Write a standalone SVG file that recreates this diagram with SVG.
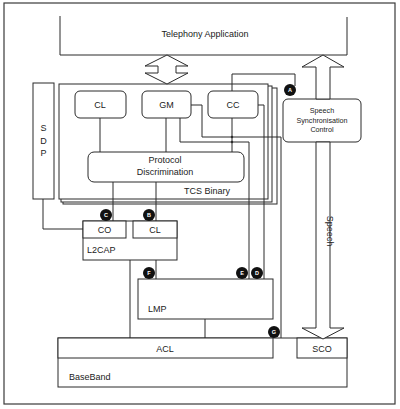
<svg xmlns="http://www.w3.org/2000/svg" width="400" height="409" viewBox="0 0 400 409">
<style>
  .b{fill:#fff;stroke:#2a2a2a;stroke-width:1}
  .n{fill:none;stroke:#2a2a2a;stroke-width:1}
  .t{font-family:"Liberation Sans",Arial,sans-serif;font-size:9px;fill:#222}
  .s{font-family:"Liberation Sans",Arial,sans-serif;font-size:7.2px;fill:#222}
  .dot circle{fill:#111}
  .dot text{font-family:"Liberation Sans",Arial,sans-serif;font-size:5.5px;font-weight:bold;fill:#fff;text-anchor:middle}
</style>
<rect width="400" height="409" fill="#fff"/>
<rect x="4" y="3" width="391" height="401" fill="none" stroke="#3a3a3a" stroke-width="1.2"/>

<g id="telephony">
  <path class="n" d="M60,16 V55 H347 V17"/>
  <text class="t" x="205" y="37" text-anchor="middle">Telephony Application</text>
</g>

<g id="tcs-binary">
  <rect class="b" x="63" y="88" width="214" height="116"/>
  <rect class="b" x="61" y="86" width="211" height="116"/>
  <rect class="b" x="59" y="84" width="209" height="115"/>
  <text class="t" x="207" y="194" text-anchor="middle">TCS Binary</text>
</g>

<g id="cl-top">
  <rect class="b" x="75" y="91" width="51" height="27" rx="5"/>
  <text class="t" x="100" y="107.5" text-anchor="middle">CL</text>
</g>
<g id="gm">
  <rect class="b" x="142" y="91" width="49" height="27" rx="5"/>
  <text class="t" x="166.5" y="107.5" text-anchor="middle">GM</text>
</g>
<g id="cc">
  <rect class="b" x="208" y="91" width="50" height="27" rx="5"/>
  <text class="t" x="233" y="107.5" text-anchor="middle">CC</text>
</g>
<g id="protocol-discrimination">
  <rect class="b" x="88" y="152" width="156" height="30" rx="6"/>
  <text class="t" x="165" y="163" text-anchor="middle">Protocol</text>
  <text class="t" x="165" y="175" text-anchor="middle">Discrimination</text>
</g>

<g id="sdp">
  <rect class="b" x="33" y="83" width="21" height="116"/>
  <text class="t" x="43.5" y="131" text-anchor="middle">S</text>
  <text class="t" x="43.5" y="143.5" text-anchor="middle">D</text>
  <text class="t" x="43.5" y="156" text-anchor="middle">P</text>
</g>

<g id="speech-sync">
  <rect class="b" x="283" y="99" width="78" height="43" rx="5"/>
  <text class="s" x="322" y="113" text-anchor="middle">Speech</text>
  <text class="s" x="322" y="122.5" text-anchor="middle">Synchronisation</text>
  <text class="s" x="322" y="132" text-anchor="middle">Control</text>
</g>

<g id="l2cap">
  <rect class="b" x="83" y="221" width="94" height="39"/>
  <rect class="b" x="83" y="221" width="43" height="17"/>
  <rect class="b" x="133" y="221" width="44" height="17"/>
  <text class="t" x="104.5" y="232.5" text-anchor="middle">CO</text>
  <text class="t" x="155" y="232.5" text-anchor="middle">CL</text>
  <text class="t" x="87" y="253">L2CAP</text>
</g>

<g id="lmp">
  <rect class="b" x="138" y="279" width="135" height="40"/>
  <text class="t" x="148" y="312">LMP</text>
</g>

<g id="baseband">
  <rect class="b" x="58" y="338" width="289" height="49"/>
  <rect class="b" x="58" y="338" width="215" height="20"/>
  <rect class="b" x="297" y="338" width="50" height="20"/>
  <text class="t" x="165" y="351.5" text-anchor="middle">ACL</text>
  <text class="t" x="322" y="351.5" text-anchor="middle">SCO</text>
  <text class="t" x="69" y="380">BaseBand</text>
</g>

<g id="connectors">
  <!-- double arrow app <-> TCS -->
  <polygon class="b" points="167,55 188,66 176,66 176,73 188,73 167,84 145,73 158,73 158,66 145,66"/>
  <!-- speech arrows -->
  <polygon class="b" points="323,55 344,67 330,67 330,99 316,99 316,67 302,67"/>
  <polygon class="b" points="316,142 330,142 330,328 344,328 323,339 302,328 316,328"/>
  <text class="t" transform="translate(326.5,231) rotate(90)" text-anchor="middle">Speech</text>
  <!-- TCS internal -->
  <path class="n" d="M100,118 V152"/>
  <path class="n" d="M166,118 V152"/>
  <path class="n" d="M232,118 V152"/>
  <!-- GM -> E -->
  <path class="n" d="M180,118 V142 H249 V279"/>
  <!-- GM -> G -->
  <path class="n" d="M191,105 H202 V137 H281 V338"/>
  <!-- CC -> D -->
  <path class="n" d="M258,105 H264 V279"/>
  <!-- CC -> A -->
  <path class="n" d="M232,91 V74 H295 V86"/>
  <circle cx="232" cy="137" r="1.2" fill="#2a2a2a"/>
  <circle cx="232" cy="142" r="1.2" fill="#2a2a2a"/>
  <!-- PD -> L2CAP -->
  <path class="n" d="M113,182 V221"/>
  <path class="n" d="M156,182 V221"/>
  <!-- SDP -> CO -->
  <path class="n" d="M43,199 V229 H83"/>
  <!-- L2CAP -> ACL, LMP -->
  <path class="n" d="M130,260 V338"/>
  <path class="n" d="M156,260 V279"/>
  <!-- LMP -> ACL -->
  <path class="n" d="M205,319 V338"/>
</g>

<g id="markers" class="dot">
  <g id="mA"><circle cx="290" cy="90" r="6"/><text x="290" y="92">A</text></g>
  <g id="mB"><circle cx="149" cy="215" r="6"/><text x="149" y="217">B</text></g>
  <g id="mC"><circle cx="106" cy="215" r="6"/><text x="106" y="217">C</text></g>
  <g id="mD"><circle cx="257" cy="273" r="6"/><text x="257" y="275">D</text></g>
  <g id="mE"><circle cx="242" cy="273" r="6"/><text x="242" y="275">E</text></g>
  <g id="mF"><circle cx="149" cy="273" r="6"/><text x="149" y="275">F</text></g>
  <g id="mG"><circle cx="274" cy="332" r="6"/><text x="274" y="334">G</text></g>
</g>
</svg>
